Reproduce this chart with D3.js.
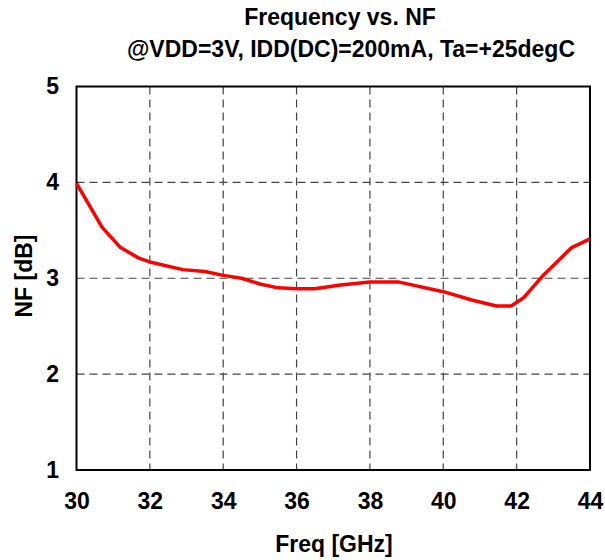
<!DOCTYPE html>
<html><head><meta charset="utf-8">
<script src="https://cdn.jsdelivr.net/npm/d3@7"></script>
<style>body{margin:0;background:#fff}svg{display:block}text{font-family:"Liberation Sans",Arial,sans-serif;font-weight:bold;fill:#000}</style>
</head><body>
<script>
const freq = [30, 30.7, 31.2, 31.7, 32.0, 32.9, 33.5, 34.0, 34.5, 35.0, 35.5, 36.0, 36.5, 37.2, 38.0, 38.8, 40.0, 40.8, 41.45, 41.85, 42.2, 42.7, 43.5, 44.0];
const nf = [3.99, 3.53, 3.32, 3.21, 3.17, 3.09, 3.07, 3.03, 3.0, 2.94, 2.90, 2.89, 2.89, 2.93, 2.96, 2.96, 2.86, 2.77, 2.71, 2.71, 2.80, 3.02, 3.32, 3.41];
const xTicks = [30, 32, 34, 36, 38, 40, 42, 44];
const yTicks = [1, 2, 3, 4, 5];
const titleLines = ["Frequency vs. NF", "@VDD=3V, IDD(DC)=200mA, Ta=+25degC"];

const W = 605, H = 560;
const m = {l: 76.5, r: 590, t: 86.5, b: 470};
const FS = "23px";
const svg = d3.select("body").append("svg").attr("width", W).attr("height", H);
const x = d3.scaleLinear().domain([30, 44]).range([m.l, m.r]);
const y = d3.scaleLinear().domain([1, 5]).range([m.b, m.t]);

// grid
svg.append("g").selectAll("line").data(xTicks.slice(1, -1)).join("line")
  .attr("x1", d => x(d)).attr("x2", d => x(d)).attr("y1", m.t).attr("y2", m.b)
  .attr("stroke", "#444").attr("stroke-width", 1.2).attr("stroke-dasharray", "8,5");
svg.append("g").selectAll("line").data(yTicks.slice(1, -1)).join("line")
  .attr("y1", d => y(d)).attr("y2", d => y(d)).attr("x1", m.l).attr("x2", m.r)
  .attr("stroke", "#444").attr("stroke-width", 1.2).attr("stroke-dasharray", "8,5");

// frame
svg.append("rect").attr("x", m.l).attr("y", m.t).attr("width", m.r - m.l).attr("height", m.b - m.t)
  .attr("fill", "none").attr("stroke", "#000").attr("stroke-width", 2);

const xAxis = svg.append("g").attr("transform", `translate(0,${m.b})`)
  .call(d3.axisBottom(x).tickValues(xTicks).tickSize(0).tickPadding(23).tickFormat(d3.format("d")));
xAxis.select(".domain").remove();
xAxis.selectAll("text").style("font-size", FS).style("font-family", "Liberation Sans, Arial, sans-serif").style("font-weight", "bold").attr("fill", "#000");

const yAxis = svg.append("g").attr("transform", `translate(${m.l},0)`)
  .call(d3.axisLeft(y).tickValues(yTicks).tickSize(0).tickPadding(17.5).tickFormat(d3.format("d")));
yAxis.select(".domain").remove();
yAxis.selectAll("text").style("font-size", FS).style("font-family", "Liberation Sans, Arial, sans-serif").style("font-weight", "bold").attr("fill", "#000");

// line
svg.append("path").datum(freq.map((f, i) => [f, nf[i]]))
  .attr("d", d3.line().x(d => x(d[0])).y(d => y(d[1])))
  .attr("fill", "none").attr("stroke", "#ff0000").attr("stroke-width", 3.5).attr("stroke-linejoin", "round");

// titles
svg.append("text").attr("x", 340).attr("y", 25).attr("text-anchor", "middle").style("font-size", FS).text(titleLines[0]);
svg.append("text").attr("x", 351).attr("y", 57).attr("text-anchor", "middle").style("font-size", FS).text(titleLines[1]);
svg.append("text").attr("x", 334).attr("y", 552).attr("text-anchor", "middle").style("font-size", FS).text("Freq [GHz]");
svg.append("text").attr("transform", "translate(32,276) rotate(-90)").attr("text-anchor", "middle").style("font-size", FS).text("NF [dB]");
</script>
</body></html>
